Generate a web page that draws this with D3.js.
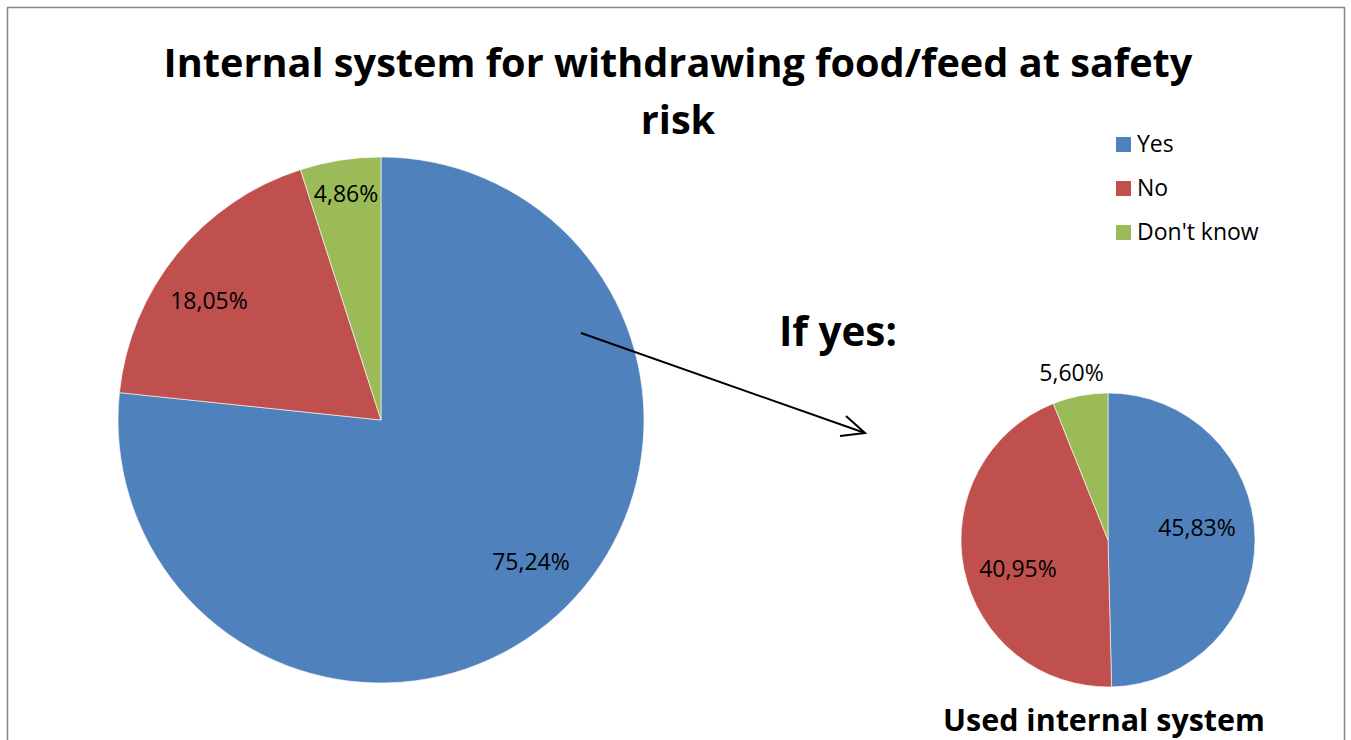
<!DOCTYPE html>
<html><head><meta charset="utf-8">
<script src="https://cdn.jsdelivr.net/npm/d3@7"></script>
<style>body{margin:0;background:#fff;}svg{display:block;}</style>
</head><body>
<svg id="c" width="1351" height="740"></svg>
<script>
const categories = ["Yes", "No", "Don't know"];
const mainValues = [75.24, 18.05, 4.86];
const mainLabels = ["75,24%", "18,05%", "4,86%"];
const subValues = [45.83, 40.95, 5.60];
const subLabels = ["45,83%", "40,95%", "5,60%"];
const colors = ["#4F81BD", "#C0504D", "#9BBB59"];
const titleLines = ["Internal system for withdrawing food/feed at safety", "risk"];

const svg = d3.select("#c");
const font = "'Open Sans', 'Liberation Sans', sans-serif";

// frame
svg.append("rect").attr("x", 7.5).attr("y", 7.5).attr("width", 1337).attr("height", 760)
  .attr("fill", "#fff").attr("stroke", "#868686").attr("stroke-width", 1.5);

const color = d3.scaleOrdinal().domain(categories).range(colors);
const pie = d3.pie().sort(null).value(d => d.v);

function drawPie(cx, cy, r, values, labels, labelPos) {
  const data = values.map((v, i) => ({cat: categories[i], v, label: labels[i]}));
  const arcs = pie(data);
  const g = svg.append("g").attr("transform", `translate(${cx},${cy})`);
  const arc = d3.arc().innerRadius(0).outerRadius(r);
  g.selectAll("path").data(arcs).join("path")
    .attr("d", arc).attr("fill", d => color(d.data.cat))
    .attr("stroke", "#fff").attr("stroke-width", 0.6);
  g.selectAll("text").data(arcs).join("text")
    .attr("x", (d, i) => labelPos[i][0] - cx)
    .attr("y", (d, i) => labelPos[i][1] - cy)
    .attr("text-anchor", "middle")
    .attr("font-family", font).attr("font-size", 23).attr("fill", "#000")
    .text(d => d.data.label);
}

// label positions: [center x, baseline y]
drawPie(381, 420, 263, mainValues, mainLabels, [[531, 570], [209, 309], [346, 201.5]]);
drawPie(1108, 540, 147, subValues, subLabels, [[1197, 536], [1018, 577], [1071.5, 380.5]]);

// title
function fitText(sel, w) {
  const cur = sel.node().getComputedTextLength();
  const fs = parseFloat(sel.attr("font-size"));
  sel.attr("font-size", fs * w / cur);
}
const t1 = svg.append("text").attr("x", 678).attr("y", 77).attr("text-anchor", "middle")
  .attr("font-family", font).attr("font-weight", "bold").attr("font-size", 40).text(titleLines[0]);
fitText(t1, 1029);
const t2 = svg.append("text").attr("x", 678).attr("y", 134).attr("text-anchor", "middle")
  .attr("font-family", font).attr("font-weight", "bold").attr("font-size", t1.attr("font-size")).text(titleLines[1]);

// legend
const lg = svg.append("g");
categories.forEach((c, i) => {
  const y = 152 + i * 44;
  lg.append("rect").attr("x", 1116).attr("y", y - 15).attr("width", 15).attr("height", 15).attr("fill", colors[i]);
  lg.append("text").attr("x", 1137).attr("y", y)
    .attr("font-family", font).attr("font-size", 23).attr("fill", "#000").text(c);
});

// If yes
const iy = svg.append("text").attr("x", 779).attr("y", 346).attr("font-family", font)
  .attr("font-weight", "bold").attr("font-size", 38).text("If yes:");
fitText(iy, 118);
const ui = svg.append("text").attr("x", 1104).attr("y", 731).attr("text-anchor", "middle").attr("font-family", font)
  .attr("font-weight", "bold").attr("font-size", 30).text("Used internal system");
fitText(ui, 322);

// arrow
svg.append("line").attr("x1", 581).attr("y1", 333).attr("x2", 865).attr("y2", 433)
  .attr("stroke", "#000").attr("stroke-width", 2);
svg.append("path").attr("d", "M846,416 L865,433 L840,436").attr("fill", "none")
  .attr("stroke", "#000").attr("stroke-width", 2);
</script>
</body></html>
